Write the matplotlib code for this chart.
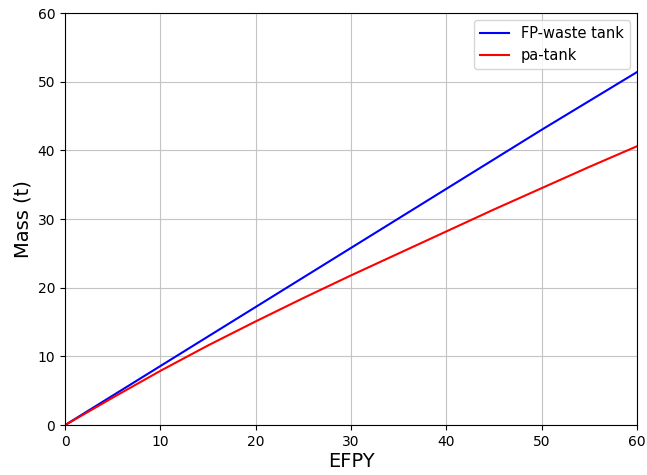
import numpy as np
import matplotlib.pyplot as plt

# Datos
efpy = [0, 5, 10, 15, 20, 25, 30, 35, 40, 45, 50, 55, 60]
fpWaste = [0, 4.3, 8.6, 12.9, 17.2, 21.5, 25.8, 30.1, 34.4, 38.7, 43.0, 47.2, 51.4]
paTank = [0, 4.0, 7.9, 11.6, 15.1, 18.5, 21.8, 25.0, 28.2, 31.4, 34.5, 37.6, 40.6]

fig = plt.figure(figsize=(6.47, 4.75), dpi=100)
ax = fig.add_axes([0.1005, 0.105, 0.884, 0.8676])
ax.plot(efpy, fpWaste, color='blue', lw=1.5, label='FP-waste tank')
ax.plot(efpy, paTank, color='red', lw=1.5, label='pa-tank')
ax.set_xlim(0, 60)
ax.set_ylim(0, 60)
ax.set_xticks(np.arange(0, 61, 10))
ax.set_yticks(np.arange(0, 61, 10))
ax.grid(True, color='#c4c4c4', lw=0.8)
ax.set_axisbelow(True)
ax.set_xlabel('EFPY', fontsize=14, labelpad=2)
ax.set_ylabel('Mass (t)', fontsize=14)
ax.legend(loc='upper right', fontsize=10.5)

fig.savefig('out.png', dpi=100)
